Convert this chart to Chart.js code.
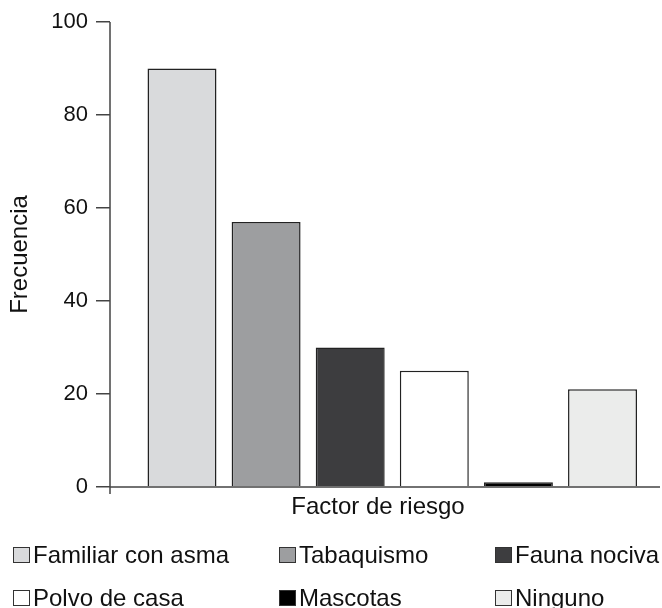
<!DOCTYPE html>
<html>
<head>
<meta charset="utf-8">
<script src="https://cdn.jsdelivr.net/npm/chart.js@4/dist/chart.umd.min.js"></script>
<style>
  body { margin: 0; background: #fff; font-family: "Liberation Sans", Arial, sans-serif; }
  #wrap { position: relative; width: 662px; height: 608px; }
  #legend {
    position: absolute; left: 13px; top: 533px;
    display: grid; grid-template-columns: 266px 216px auto;
    grid-auto-rows: 43px; font-size: 24px; color: #111;
  }
  .item { display: flex; align-items: center; }
  .box { width: 15px; height: 14px; border: 1.5px solid #333; margin-right: 3px; }
</style>
</head>
<body>
<div id="wrap">
  <canvas id="bar-chart"></canvas>
  <div id="legend"></div>
</div>
<script>
var categories = ['Familiar con asma', 'Tabaquismo', 'Fauna nociva', 'Polvo de casa', 'Mascotas', 'Ninguno'];
var frecuencia = [90, 57, 30, 25, 1, 21];
var colores = ['#d9dadc', '#9d9ea0', '#3d3d3f', '#ffffff', '#000000', '#ebeceb'];
var yTicks = [0, 20, 40, 60, 80, 100];

var titleFont = { family: '"Liberation Sans", Arial, sans-serif', size: 24 };
var tickFont = { family: '"Liberation Sans", Arial, sans-serif', size: 22 };

// axis lines drawn so the y axis runs a bit past the x axis, like the original
var axisLines = {
  id: 'axisLines',
  afterDraw: function(chart) {
    var ctx = chart.ctx, a = chart.chartArea;
    ctx.save();
    ctx.strokeStyle = '#444';
    ctx.lineWidth = 1.5;
    ctx.beginPath();
    ctx.moveTo(a.left, a.top);
    ctx.lineTo(a.left, a.bottom + 7);
    ctx.moveTo(a.left, a.bottom);
    ctx.lineTo(chart.width - 2, a.bottom);
    ctx.stroke();
    ctx.restore();
  }
};

new Chart(document.getElementById('bar-chart'), {
  type: 'bar',
  data: {
    datasets: [{
      data: categories.map(function(c, i) { return { x: i, y: frecuencia[i] }; }),
      backgroundColor: colores,
      borderColor: '#222',
      borderWidth: 1.5,
      barPercentage: 0.82,
      categoryPercentage: 1
    }]
  },
  options: {
    responsive: true,
    maintainAspectRatio: false,
    animation: false,
    layout: { padding: { top: 22, right: 16, bottom: 86, left: 0 } },
    plugins: { legend: { display: false }, tooltip: { enabled: false } },
    scales: {
      x: {
        type: 'linear',
        offset: false,
        min: -0.856,
        max: 5.517,
        // one (hidden) tick per category so the bar width follows the category spacing
        afterBuildTicks: function(s) { s.ticks = categories.map(function(c, i) { return { value: i }; }); },
        ticks: { display: false },
        grid: { display: false, offset: false },
        border: { display: false },
        title: { display: true, text: 'Factor de riesgo', color: '#111', font: titleFont, padding: { top: 6, bottom: 0 } },
        afterFit: function(s) { s.height = 35; }
      },
      y: {
        min: 0,
        max: 100,
        afterBuildTicks: function(s) { s.ticks = yTicks.map(function(v) { return { value: v }; }); },
        ticks: { color: '#111', font: tickFont, padding: 8 },
        grid: { drawOnChartArea: false, tickLength: 14, color: '#444', lineWidth: 1.5 },
        border: { display: false },
        title: { display: true, text: 'Frecuencia', color: '#111', font: titleFont, padding: { top: 6, bottom: 0 } },
        afterFit: function(s) { s.width = 110; }
      }
    }
  },
  plugins: [axisLines]
});

var legend = document.getElementById('legend');
categories.forEach(function(c, i) {
  var item = document.createElement('div');
  item.className = 'item';
  var box = document.createElement('span');
  box.className = 'box';
  box.style.background = colores[i];
  item.appendChild(box);
  item.appendChild(document.createTextNode(c));
  legend.appendChild(item);
});
</script>
</body>
</html>
